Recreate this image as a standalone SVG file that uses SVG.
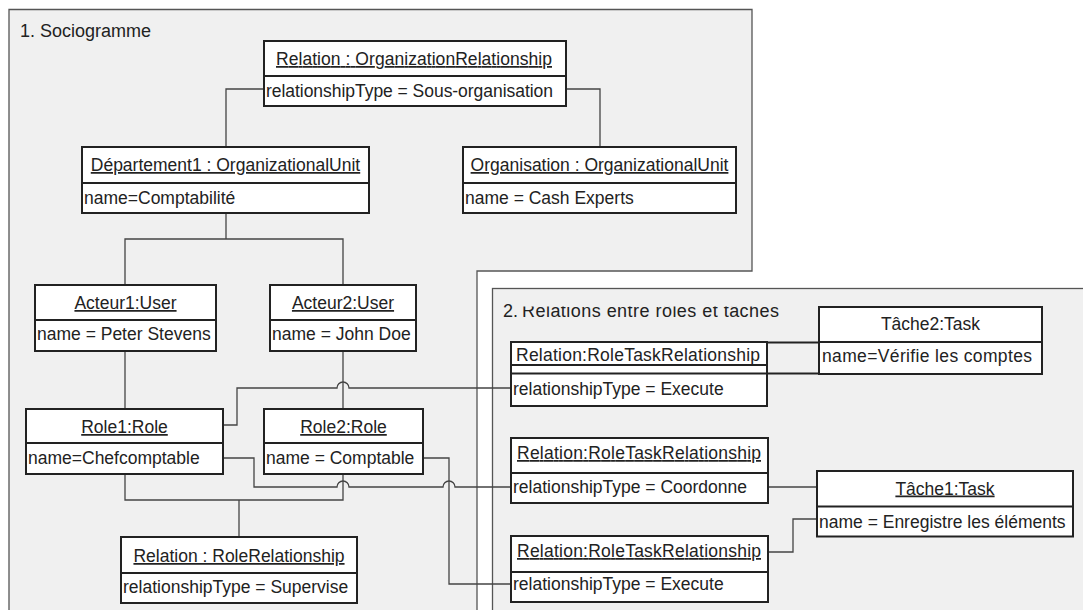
<svg xmlns="http://www.w3.org/2000/svg" width="1083" height="610" viewBox="0 0 1083 610">
<style>
text{font-family:"Liberation Sans",Arial,sans-serif;font-size:17.5px;fill:#222}
.t{text-anchor:middle;text-decoration:underline}
.tn{text-anchor:middle}
.h{font-size:18px}
.box{fill:#fff;stroke:#222;stroke-width:2}
.div{stroke:#222;stroke-width:2}
.frame{fill:#f0f0f0;stroke:#555;stroke-width:1.3}
.c{fill:none;stroke:#444;stroke-width:1.3}
.cd{fill:none;stroke:#222;stroke-width:2}
</style>
<defs>
<clipPath id="cut"><rect x="0" y="306.5" width="1083" height="40"/></clipPath>
</defs>
<rect width="1083" height="610" fill="#fff"/>
<g id="frame1">
<polygon class="frame" points="9,9.5 752,9.5 752,271 477,271 477,620 9,620"/>
<text class="h" x="20" y="37" textLength="131" lengthAdjust="spacing">1. Sociogramme</text>
</g>
<g id="frame2">
<rect class="frame" x="492.5" y="288.5" width="620" height="340"/>
<text class="h" x="503" y="317">2.</text>
<text class="h" x="522" y="317" clip-path="url(#cut)" textLength="257" lengthAdjust="spacing">Relations entre rôles et tâches</text>
</g>
<g id="connectors">
<path class="c" d="M264,89 H226 V147"/>
<path class="c" d="M566,89 H600 V147"/>
<path class="c" d="M226,213 V239"/>
<path class="c" d="M125,285 V239 H343 V285"/>
<path class="c" d="M125,351 V409"/>
<path class="c" d="M343,351 V409"/>
<path class="c" d="M223,425 H237 V388 H337 A6,6 0 0 1 349,388 H511"/>
<path class="c" d="M223,458 H254 V487 H337 A6,6 0 0 1 349,487 H443 A6,6 0 0 1 455,487 H511"/>
<path class="c" d="M423,458 H449 V584 H511"/>
<path class="c" d="M125,474 V500 H343 V474"/>
<path class="c" d="M239,500 V537"/>
<path class="cd" d="M767,342.5 H819"/>
<path class="cd" d="M767,373.5 H819"/>
<path class="c" d="M768,487 H817"/>
<path class="c" d="M768,552 H793 V519 H817"/>
</g>
<g id="relOrg">
<rect class="box" x="264" y="41" width="302" height="65"/>
<line class="div" x1="264" y1="76" x2="566" y2="76"/>
<text class="t" x="414" y="65" textLength="276" lengthAdjust="spacing">Relation : OrganizationRelationship</text>
<text x="266" y="97" textLength="287" lengthAdjust="spacing">relationshipType = Sous-organisation</text>
</g>
<g id="departement1">
<rect class="box" x="82" y="147" width="287" height="66"/>
<line class="div" x1="82" y1="183" x2="369" y2="183"/>
<text class="t" x="225.5" y="171">Département1 : OrganizationalUnit</text>
<text x="84" y="204">name=Comptabilité</text>
</g>
<g id="organisation">
<rect class="box" x="463" y="147" width="273" height="66"/>
<line class="div" x1="463" y1="183" x2="736" y2="183"/>
<text class="t" x="599.5" y="171">Organisation : OrganizationalUnit</text>
<text x="465" y="204">name = Cash Experts</text>
</g>
<g id="acteur1">
<rect class="box" x="35" y="285" width="181" height="66"/>
<line class="div" x1="35" y1="320" x2="216" y2="320"/>
<text class="t" x="125.5" y="309">Acteur1:User</text>
<text x="37" y="340">name = Peter Stevens</text>
</g>
<g id="acteur2">
<rect class="box" x="270" y="285" width="146" height="66"/>
<line class="div" x1="270" y1="320" x2="416" y2="320"/>
<text class="t" x="343" y="309">Acteur2:User</text>
<text x="272" y="340">name = John Doe</text>
</g>
<g id="role1">
<rect class="box" x="26" y="409" width="197" height="65"/>
<line class="div" x1="26" y1="443" x2="223" y2="443"/>
<text class="t" x="124.5" y="433">Role1:Role</text>
<text x="28" y="464">name=Chefcomptable</text>
</g>
<g id="role2">
<rect class="box" x="264" y="409" width="159" height="65"/>
<line class="div" x1="264" y1="443" x2="423" y2="443"/>
<text class="t" x="343.5" y="433">Role2:Role</text>
<text x="266" y="464">name = Comptable</text>
</g>
<g id="roleRelationship">
<rect class="box" x="121" y="537" width="236" height="66"/>
<line class="div" x1="121" y1="573" x2="357" y2="573"/>
<text class="t" x="239" y="562">Relation : RoleRelationship</text>
<text x="123" y="593">relationshipType = Supervise</text>
</g>
<g id="roleTask1">
<rect class="box" x="511" y="342" width="256" height="64"/>
<line class="div" x1="511" y1="365" x2="767" y2="365"/>
<line class="div" x1="511" y1="373.5" x2="767" y2="373.5"/>
<text class="tn" x="638" y="361" textLength="244" lengthAdjust="spacing">Relation:RoleTaskRelationship</text>
<text x="513" y="395">relationshipType = Execute</text>
</g>
<g id="tache2">
<rect class="box" x="819" y="307" width="223" height="67"/>
<line class="div" x1="819" y1="342" x2="1042" y2="342"/>
<text class="tn" x="930.5" y="330">Tâche2:Task</text>
<text x="822" y="362" textLength="210" lengthAdjust="spacing">name=Vérifie les comptes</text>
</g>
<g id="roleTask2">
<rect class="box" x="511" y="438" width="257" height="65"/>
<line class="div" x1="511" y1="473" x2="768" y2="473"/>
<text class="t" x="639" y="459" textLength="244" lengthAdjust="spacing">Relation:RoleTaskRelationship</text>
<text x="513" y="493">relationshipType = Coordonne</text>
</g>
<g id="roleTask3">
<rect class="box" x="511" y="536" width="257" height="66"/>
<line class="div" x1="511" y1="572" x2="768" y2="572"/>
<text class="t" x="639" y="557" textLength="244" lengthAdjust="spacing">Relation:RoleTaskRelationship</text>
<text x="513" y="590">relationshipType = Execute</text>
</g>
<g id="tache1">
<rect class="box" x="817" y="471" width="256" height="65.5"/>
<line class="div" x1="817" y1="506.5" x2="1073" y2="506.5"/>
<text class="t" x="945" y="494.5">Tâche1:Task</text>
<text x="819" y="528">name = Enregistre les éléments</text>
</g>
</svg>
